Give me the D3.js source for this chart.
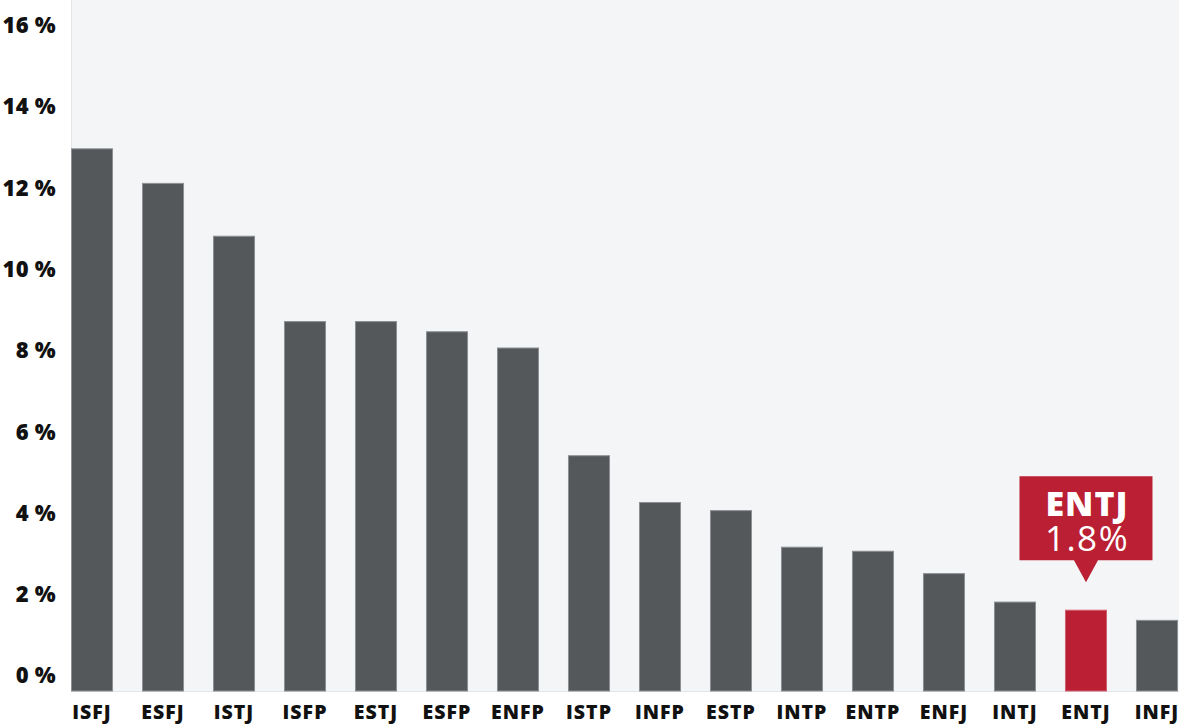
<!DOCTYPE html>
<html>
<head>
<meta charset="utf-8">
<script src="https://cdn.jsdelivr.net/npm/d3@7"></script>
<style>
  html, body { margin: 0; padding: 0; background: #ffffff; }
  svg { display: block; font-family: "Open Sans", "Noto Sans", sans-serif; }
</style>
</head>
<body>
<svg id="chart" width="1179" height="727"></svg>
<script>
const categories = ["ISFJ","ESFJ","ISTJ","ISFP","ESTJ","ESFP","ENFP","ISTP","INFP","ESTP","INTP","ENTP","ENFJ","INTJ","ENTJ","INFJ"];
const values = [13.35, 12.5, 11.2, 9.1, 9.1, 8.85, 8.45, 5.8, 4.65, 4.45, 3.55, 3.45, 2.9, 2.2, 2.0, 1.75];
const yTicks = [0, 2, 4, 6, 8, 10, 12, 14, 16];
const highlight = "ENTJ";
const calloutTitle = "ENTJ";
const calloutValue = "1.8%";

const W = 1179, H = 727;
const plot = { left: 71, right: 1179, top: 0, bottom: 691 };

const svg = d3.select("#chart");

// plot background
svg.append("rect")
  .attr("x", plot.left).attr("y", plot.top)
  .attr("width", plot.right - plot.left).attr("height", plot.bottom - plot.top)
  .attr("fill", "#f4f5f7");

// left and bottom light borders
svg.append("line").attr("x1", plot.left + 0.5).attr("x2", plot.left + 0.5)
  .attr("y1", plot.top).attr("y2", plot.bottom)
  .attr("stroke", "#e3e5e8").attr("stroke-width", 1);
svg.append("line").attr("x1", plot.left).attr("x2", plot.right)
  .attr("y1", plot.bottom + 0.5).attr("y2", plot.bottom + 0.5)
  .attr("stroke", "#e3e5e8").attr("stroke-width", 1);

const x = d3.scaleBand()
  .domain(categories)
  .range([plot.left, 1178])
  .paddingInner(0.408)
  .paddingOuter(0);

const y = d3.scaleLinear()
  .domain([0, 16])
  .range([plot.bottom, plot.bottom - 16 * 40.65]);

// bars
svg.append("g").selectAll("rect")
  .data(categories)
  .join("rect")
  .attr("x", d => x(d) + 0.5)
  .attr("y", (d, i) => y(values[i]) + 0.5)
  .attr("width", x.bandwidth() - 1)
  .attr("height", (d, i) => y(0) - y(values[i]) - 0.5)
  .attr("fill", d => d === highlight ? "#ba1f33" : "#55585b")
  .attr("stroke", d => d === highlight ? "#d06070" : "#8c8f93")
  .attr("stroke-width", 1);

// y axis labels (sit above their value line)
const yAxis = d3.axisLeft(y).tickValues(yTicks).tickSize(0).tickPadding(0)
  .tickFormat(d => d + " %");
const gy = svg.append("g").attr("transform", `translate(${56},0)`).call(yAxis);
gy.select(".domain").remove();
gy.selectAll("text")
  .attr("dy", "0.36em")
  .attr("transform", "translate(0,-16)")
  .attr("font-size", 22)
  .attr("font-weight", 800)
  .attr("letter-spacing", 0.3)
  .attr("fill", "#111111")
  .attr("font-family", "'Open Sans', sans-serif");

// x axis labels
const xAxis = d3.axisBottom(x).tickSize(0).tickPadding(0);
const gx = svg.append("g").attr("transform", `translate(0,${plot.bottom})`).call(xAxis);
gx.select(".domain").remove();
gx.selectAll("text")
  .attr("y", 28)
  .attr("dy", 0)
  .attr("font-size", 19.5)
  .attr("font-weight", 800)
  .attr("letter-spacing", 1)
  .attr("fill", "#111111")
  .attr("font-family", "'Open Sans', sans-serif");

// callout above highlighted bar
const hi = categories.indexOf(highlight);
const cx = x(highlight) + x.bandwidth() / 2;
const tipY = y(values[hi]) - 27.5;
const boxW = 133, boxH = 84, arrowH = 22, arrowHalf = 12;
const boxBottom = tipY - arrowH;
const boxTop = boxBottom - boxH;
const callout = svg.append("g");
callout.append("path")
  .attr("d", `M${cx - boxW / 2},${boxTop} H${cx + boxW / 2} V${boxBottom} H${cx + arrowHalf} L${cx},${tipY} L${cx - arrowHalf},${boxBottom} H${cx - boxW / 2} Z`)
  .attr("fill", "#ba1f33");
callout.append("text")
  .attr("x", cx + 1).attr("y", boxTop + 40)
  .attr("text-anchor", "middle")
  .attr("font-size", 34).attr("font-weight", 800)
  .attr("letter-spacing", 1)
  .attr("fill", "#ffffff")
  .attr("font-family", "'Open Sans', sans-serif")
  .text(calloutTitle);
callout.append("text")
  .attr("x", cx + 1).attr("y", boxTop + 75)
  .attr("text-anchor", "middle")
  .attr("font-size", 35).attr("font-weight", 400)
  .attr("letter-spacing", 1.5)
  .attr("fill", "#ffffff")
  .attr("font-family", "'Open Sans', sans-serif")
  .text(calloutValue);
</script>
</body>
</html>
